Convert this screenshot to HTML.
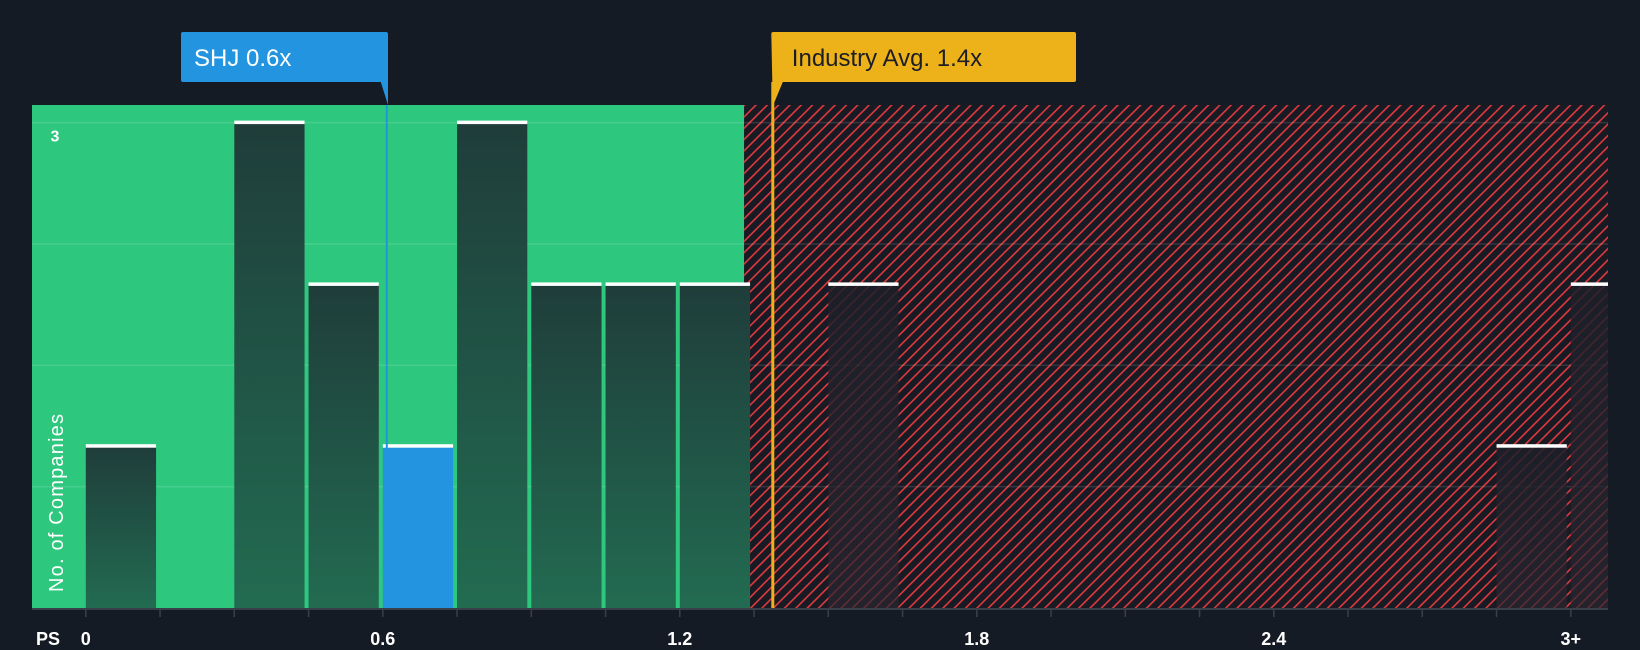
<!DOCTYPE html>
<html><head><meta charset="utf-8"><style>
html,body{margin:0;padding:0;background:#151b24;}
svg{display:block;font-family:"Liberation Sans",sans-serif;}
</style></head><body>
<svg id="chart" width="1640" height="650">
<defs>
<pattern id="hatch" patternUnits="userSpaceOnUse" width="8" height="8" patternTransform="rotate(45)">
<rect width="8" height="8" fill="#181b24"/>
<rect width="1.6" height="8" fill="#e0393e"/>
</pattern>
<linearGradient id="barg" x1="0" y1="0" x2="0" y2="1">
<stop offset="0" stop-color="#1f3d3a"/><stop offset="1" stop-color="#226b51"/>
</linearGradient>
<linearGradient id="barr" x1="0" y1="0" x2="0" y2="1">
<stop offset="0" stop-color="#1c1f29" stop-opacity="0.85"/><stop offset="1" stop-color="#2a2630" stop-opacity="0.7"/>
</linearGradient>
</defs>
</svg>
<script>
const binStarts=[0,0.15,0.3,0.45,0.6,0.75,0.9,1.05,1.2,1.35,1.5,1.65,1.8,1.95,2.1,2.25,2.4,2.55,2.7,2.85,3.0];
const counts=[1,0,3,2,1,3,2,2,2,0,2,0,0,0,0,0,0,0,0,1,2];
const tickValues=[0,0.6,1.2,1.8,2.4,3.0];
const tickLabels=["0","0.6","1.2","1.8","2.4","3+"];
const gridValues=[0.75,1.5,2.25,3];
const companyValue=0.6;
const companyBin=0.6;
const industryAvg=1.4;
const fairLimit=1.33;

const L=32,R=1608,T=105,B=608;
const x=v=>85.8+v*(297/0.6);
const y=v=>B-v*161.8;
const binW=x(0.15)-x(0);
const svg=document.getElementById('chart');
const NS='http://www.w3.org/2000/svg';
function mk(tag,attrs,parent){const e=document.createElementNS(NS,tag);for(const k in attrs)e.setAttribute(k,attrs[k]);(parent||svg).appendChild(e);return e;}

const bgG=mk('rect',{x:L,y:T,width:x(fairLimit)-L,height:B-T,fill:'#2ec77e'});


const bgR=mk('rect',{x:x(fairLimit),y:T,width:R-x(fairLimit),height:B-T,fill:'url(#hatch)'});



gridValues.forEach(g=>{
  const l=mk('line',{x1:L,x2:R,y1:y(g),y2:y(g),stroke:'rgba(255,255,255,0.12)','stroke-width':1.5});
  
  
});

binStarts.forEach((b,i)=>{
  if(!counts[i])return;
  const x0=x(b), w=Math.min(binW-4, R-x0);
  const top=y(counts[i]);
  const isCo=(b===companyBin);
  const fill=isCo?'#2394e0':(b>=fairLimit?'url(#barr)':'url(#barg)');
  const r=mk('rect',{x:x0,y:top,width:w,height:B-top,fill:fill});
  
  
  const c=mk('rect',{x:x0,y:top-2,width:w,height:3.5,fill:'#ffffff'});
  
  
});

const ax=mk('line',{x1:L,x2:R,y1:B+1,y2:B+1,stroke:'#3a404a','stroke-width':2});


for(let v=0;v<=3.01;v+=0.15){
  const t=mk('line',{x1:x(v),x2:x(v),y1:B+1,y2:B+9,stroke:'#3a404a','stroke-width':1.5});
  
  
}
tickValues.forEach((v,i)=>{
  const t=mk('text',{x:x(v),y:645,'text-anchor':'middle',fill:'#ffffff','font-size':18,'font-weight':'bold'});
  t.textContent=tickLabels[i];
  
  
});
const ps=mk('text',{x:36,y:645,fill:'#ffffff','font-size':18,'font-weight':'bold'});ps.textContent='PS';


const y3=mk('text',{x:55,y:y(3)+19,'text-anchor':'middle',fill:'#ffffff','font-size':16,'font-weight':'bold'});y3.textContent='3';


const yt=mk('text',{x:0,y:0,fill:'#ffffff','font-size':20,textLength:178,transform:'translate(63,592) rotate(-90)'});yt.textContent='No. of Companies';



// company marker
const cx=x(companyValue)+4;
const cl=mk('line',{x1:cx,x2:cx,y1:T,y2:B,stroke:'#2394e0','stroke-width':2});


const cb=mk('path',{d:`M181 34 q0 -2 2 -2 H386 q2 0 2 2 V${T} L${cx-6} 82 H183 q-2 0 -2 -2 Z`,fill:'#2394e0'});


const ct=mk('text',{x:194,y:66,fill:'#ffffff','font-size':24});ct.textContent='SHJ 0.6x';



// industry marker
const ix=x(industryAvg)-6;
const il=mk('line',{x1:ix,x2:ix,y1:82,y2:B,stroke:'#edb11a','stroke-width':3});


const ib=mk('path',{d:`M${ix-1.5} 34 q0 -2 2 -2 H1074 q2 0 2 2 V80 q0 2 -2 2 H${ix+10} L${ix} 106 Z`,fill:'#edb11a'});


const it=mk('text',{x:ix+19,y:66,fill:'#1b1e26','font-size':24});it.textContent='Industry Avg. 1.4x';


</script>
</body></html>
